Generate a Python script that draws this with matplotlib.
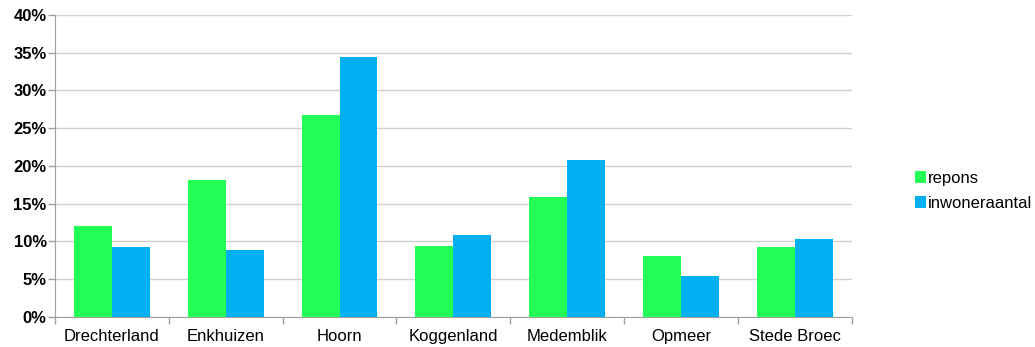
import matplotlib.pyplot as plt
import numpy as np
from matplotlib.ticker import FuncFormatter, FixedLocator, NullFormatter

## DATA (shares per municipality, in percent)
gemeenten = ['Drechterland', 'Enkhuizen', 'Hoorn', 'Koggenland',
             'Medemblik', 'Opmeer', 'Stede Broec']
repons = [12.0, 18.1, 26.8, 9.4, 15.9, 8.1, 9.3]
inwoneraantal = [9.3, 8.8, 34.4, 10.8, 20.8, 5.4, 10.3]

plt.rcParams['font.family'] = ['Liberation Sans', 'DejaVu Sans']

fig = plt.figure(figsize=(10.35, 3.47), dpi=100)
ax = fig.add_axes([0.0531, 0.0873, 0.7699, 0.8695])

x = np.arange(len(gemeenten))
w = 1.0 / 3
ax.bar(x - w / 2, repons, width=w, color='#22FF55', label='repons', zorder=3)
ax.bar(x + w / 2, inwoneraantal, width=w, color='#00B0F0', label='inwoneraantal', zorder=3)

## AXES
ax.set_xlim(-0.5, len(gemeenten) - 0.5)
ax.set_ylim(0, 40)
ax.set_yticks(np.arange(0, 41, 5))
ax.yaxis.set_major_formatter(FuncFormatter(lambda v, p: '%d%%' % v))
ax.grid(axis='y', color='#D0D0D0', linewidth=1.0, zorder=0)

ax.set_xticks(x)
ax.set_xticklabels(gemeenten, fontsize=12)
ax.tick_params(axis='x', length=0, pad=9)
ax.xaxis.set_minor_locator(FixedLocator(np.arange(-0.5, len(gemeenten), 1)))
ax.xaxis.set_minor_formatter(NullFormatter())
ax.tick_params(axis='x', which='minor', length=5, color='#A0A0A0', width=1)
ax.tick_params(axis='y', length=5, color='#A0A0A0', width=1, labelsize=12, pad=1)
for lbl in ax.get_yticklabels():
    lbl.set_fontweight('bold')

for s in ['top', 'right']:
    ax.spines[s].set_visible(False)
for s in ['left', 'bottom']:
    ax.spines[s].set_color('#A0A0A0')

## LEGEND
fig.legend(loc='center left', bbox_to_anchor=(0.884, 0.45), frameon=False,
           fontsize=12, handlelength=0.65, handleheight=0.65, handletextpad=0.15,
           labelspacing=0.6, borderaxespad=0, borderpad=0)

plt.savefig('out.png', dpi=100)
